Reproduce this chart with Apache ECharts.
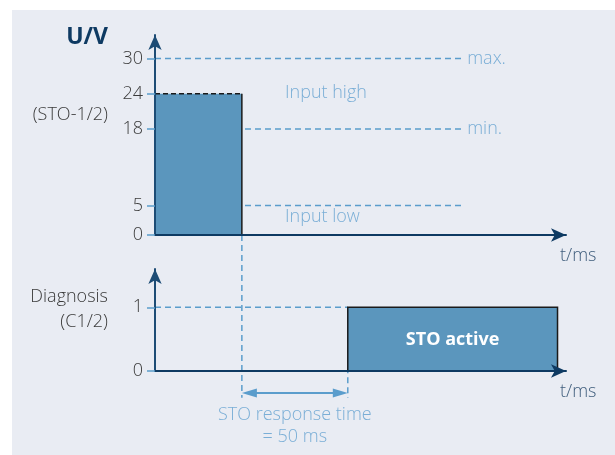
<!DOCTYPE html>
<html><head><meta charset="utf-8">
<script src="https://cdn.jsdelivr.net/npm/echarts@6/dist/echarts.min.js"></script>
<style>html,body{margin:0;padding:0;background:#fff}#c{width:615px;height:455px}</style>
</head><body><div id="c"></div>
<script>
// ---- data ----
const inputTicks = [0, 5, 18, 24, 30];          // U/V tick values
const diagTicks = [0, 1];                        // diagnosis tick values
const inputPulse = [[0, 41, 24]];                // [t start, t end, U] (STO input high)
const diagPulse = [[91, 190, 1]];                // [t start, t end, level] (STO active)
const thresholdNames = ['max.', 'min.', ''];
const thresholdValues = [30, 18, 5];
const thresholdSpan = [0, 145];                  // t range of threshold lines
const diagLevelSpan = [0, 91];                   // t range of dashed level-1 line
const tDrop = 41, tActive = 91;                  // response time 50 ms
const responseText = ['STO response time', '= 50 ms'];

// ---- style ----
const FONT = '"Open Sans", "Noto Sans", sans-serif';
const FW = 300;
const NAVY = '#0e3a62';
const LIGHT = '#5b9dcc';
const LIGHTTXT = '#7aaed6';
const BAR = '#5b96bd';
const GRAY = '#3a3a3a';

const chart = echarts.init(document.getElementById('c'), null, {renderer: 'canvas'});

function axisX(gi) {
  return {gridIndex: gi, type: 'value', min: 0, max: 194, z: 5,
    axisLine: {show: true, onZero: false, lineStyle: {color: NAVY, width: 2}, symbol: ['none', 'arrow'], symbolSize: [10, 15]},
    axisTick: {show: false}, axisLabel: {show: false}, splitLine: {show: false}};
}
function axisY(gi, max, ticks) {
  return {gridIndex: gi, type: 'value', min: 0, max: max, z: 5,
    axisLine: {show: true, onZero: false, lineStyle: {color: '#1d4c75', width: 2}, symbol: ['none', 'arrow'], symbolSize: [10, 15]},
    axisTick: {show: true, customValues: ticks, length: 8, lineStyle: {color: LIGHT, width: 1.5}},
    axisLabel: {show: true, customValues: ticks, margin: 12, fontSize: 18, fontWeight: FW, color: GRAY, fontFamily: FONT},
    splitLine: {show: false}};
}

const series = [];
thresholdValues.forEach((v, i) => {
  series.push({type: 'line', xAxisIndex: 0, yAxisIndex: 0, symbol: 'none', silent: true, z: 1,
    data: [[thresholdSpan[0], v], [thresholdSpan[1], v]],
    lineStyle: {color: LIGHT, width: 1.5, type: [6, 4]},
    endLabel: {show: thresholdNames[i] !== '', formatter: thresholdNames[i], color: LIGHTTXT, fontSize: 18, fontWeight: FW, fontFamily: FONT, distance: 5}
  });
});
series.push({type: 'line', xAxisIndex: 1, yAxisIndex: 1, symbol: 'none', silent: true, z: 1,
  data: [[diagLevelSpan[0], 1], [diagLevelSpan[1], 1]],
  lineStyle: {color: LIGHT, width: 1.5, type: [6, 4]}});

series.push({type: 'custom', xAxisIndex: 0, yAxisIndex: 0, z: 3, data: inputPulse,
  renderItem: function (params, api) {
    const x0 = api.value(0), x1 = api.value(1), v = api.value(2);
    const bl = api.coord([x0, 0]), tr = api.coord([x1, v]), tl = api.coord([x0, v]), br = api.coord([x1, 0]);
    return {type: 'group', children: [
      {type: 'rect', shape: {x: bl[0], y: tr[1], width: tr[0] - bl[0], height: bl[1] - tr[1]}, style: {fill: BAR}},
      {type: 'line', shape: {x1: tl[0], y1: tl[1], x2: tr[0], y2: tr[1]}, style: {stroke: '#1a1a1a', lineWidth: 1.5, lineDash: [5, 3]}},
      {type: 'line', shape: {x1: tr[0], y1: tr[1], x2: br[0], y2: br[1]}, style: {stroke: '#1a1a1a', lineWidth: 1.5}}
    ]};
  }});
series.push({type: 'custom', xAxisIndex: 1, yAxisIndex: 1, z: 3, data: diagPulse,
  renderItem: function (params, api) {
    const x0 = api.value(0), x1 = api.value(1), v = api.value(2);
    const bl = api.coord([x0, 0]), tr = api.coord([x1, v]);
    return {type: 'rect', shape: {x: bl[0], y: tr[1], width: tr[0] - bl[0], height: bl[1] - tr[1]},
      style: {fill: BAR, stroke: '#1a1a1a', lineWidth: 1.5}};
  }});

chart.setOption({
  animation: false,
  backgroundColor: '#ffffff',
  grid: [
    {left: 155, top: 35, width: 411, height: 200},
    {left: 155, top: 269, width: 411, height: 102}
  ],
  xAxis: [axisX(0), axisX(1)],
  yAxis: [axisY(0, 34, inputTicks), axisY(1, 1.6, diagTicks)],
  series: series
});

// ---- annotations positioned via the axes ----
const P0 = (x, y) => chart.convertToPixel({gridIndex: 0}, [x, y]);
const P1 = (x, y) => chart.convertToPixel({gridIndex: 1}, [x, y]);
const dropTop = P0(tDrop, 0), dropBot = P1(tDrop, -0.42);
const actTop = P1(tActive, 1), actBot = P1(tActive, -0.42);
const arrL = P1(tDrop, -0.345), arrR = P1(tActive, -0.345);
const barMid = P1((diagPulse[0][0] + diagPulse[0][1]) / 2, 0.5);
const midResp = (arrL[0] + arrR[0]) / 2;
const AL = 15, AW = 4.5;

const txt = (text, x, y, opt) => ({type: 'text', x: x, y: y, z: 20,
  style: Object.assign({text: text, fontSize: 18, fontWeight: FW, fontFamily: FONT, fill: GRAY, align: 'left', verticalAlign: 'middle'}, opt || {})});

chart.setOption({
  graphic: [
    {type: 'rect', z: -10, silent: true, shape: {x: 12, y: 10, width: 603, height: 445}, style: {fill: '#e9ecf3'}},
    {type: 'line', z: 1, shape: {x1: dropTop[0], y1: dropTop[1], x2: dropBot[0], y2: dropBot[1]}, style: {stroke: LIGHT, lineWidth: 1.5, lineDash: [6, 4]}},
    {type: 'line', z: 1, shape: {x1: actTop[0], y1: actTop[1], x2: actBot[0], y2: actBot[1]}, style: {stroke: LIGHT, lineWidth: 1.5, lineDash: [6, 4]}},
    {type: 'line', z: 2, shape: {x1: arrL[0] + 4, y1: arrL[1], x2: arrR[0] - 4, y2: arrR[1]}, style: {stroke: LIGHT, lineWidth: 2}},
    {type: 'polygon', z: 2, shape: {points: [[arrL[0], arrL[1]], [arrL[0] + AL, arrL[1] - AW], [arrL[0] + AL, arrL[1] + AW]]}, style: {fill: LIGHT}},
    {type: 'polygon', z: 2, shape: {points: [[arrR[0], arrR[1]], [arrR[0] - AL, arrR[1] - AW], [arrR[0] - AL, arrR[1] + AW]]}, style: {fill: LIGHT}},
    txt('U/V', 108, 37, {align: 'right', fontSize: 23, fontWeight: 'bold', fill: NAVY}),
    txt('(STO-1/2)', 108, 115, {align: 'right'}),
    txt('Diagnosis', 108, 297, {align: 'right'}),
    txt('(C1/2)', 108, 322, {align: 'right'}),
    txt('Input high', 285, 93, {fill: LIGHTTXT}),
    txt('Input low', 285, 217, {fill: LIGHTTXT}),
    txt('t/ms', 560, 256, {fill: '#3f5d7c'}),
    txt('t/ms', 560, 392, {fill: '#3f5d7c'}),
    txt('STO active', barMid[0], barMid[1] + 1, {align: 'center', fontWeight: 'bold', fill: '#ffffff'}),
    txt(responseText[0], midResp, 415, {align: 'center', fill: LIGHTTXT}),
    txt(responseText[1], midResp, 437, {align: 'center', fill: LIGHTTXT})
  ]
});
</script>
</body></html>
